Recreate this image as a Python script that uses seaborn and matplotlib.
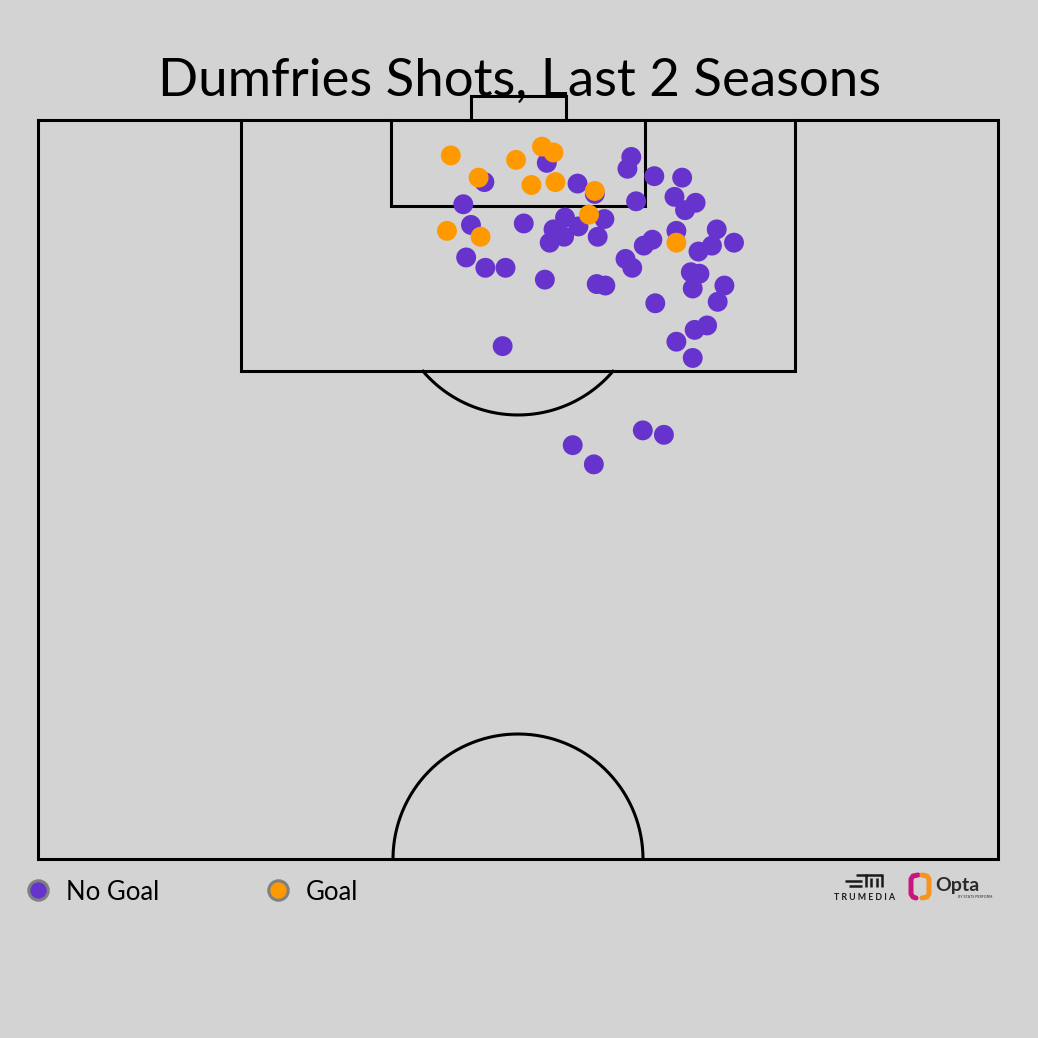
import matplotlib
matplotlib.use("Agg")
import matplotlib.pyplot as plt
import numpy as np
import pandas as pd
import seaborn as sns

# shot locations: across (0-100, left to right), up (distance along pitch, 100 = goal line)
goal_across = [43.0, 45.9, 49.8, 52.5, 53.7, 51.4, 53.9, 58.0, 57.4, 42.6, 46.1, 66.5]
goal_up = [97.6, 96.1, 97.3, 98.2, 97.8, 95.6, 95.8, 95.2, 93.6, 92.5, 92.1, 91.7]

nogoal_across = [46.5, 53.0, 56.2, 58.0, 61.8, 61.4, 64.2, 67.1, 62.3, 66.3, 68.5, 67.4,
                 44.3, 45.1, 50.6, 54.9, 59.0, 56.3, 53.7, 54.8, 53.3, 58.3, 66.5, 64.0,
                 63.1, 70.7, 70.2, 68.8, 72.5, 61.2, 61.9, 44.6, 46.6, 48.7, 52.8, 58.2,
                 59.1, 68.0, 68.9, 68.2, 71.5, 70.8, 64.3, 68.4, 69.7, 66.5, 68.2, 48.4,
                 55.7, 57.9, 63.0, 65.2]
nogoal_up = [95.8, 97.1, 95.7, 95.0, 97.5, 96.7, 96.2, 96.1, 94.5, 94.8, 94.4, 93.9,
             94.3, 92.9, 93.0, 93.4, 93.3, 92.8, 92.6, 92.1, 91.7, 92.1, 92.5, 91.9,
             91.5, 92.6, 91.5, 91.1, 91.7, 90.6, 90.0, 90.7, 90.0, 90.0, 89.2, 88.9,
             88.8, 89.7, 89.6, 88.6, 88.8, 87.7, 87.6, 85.8, 86.1, 85.0, 83.9, 84.7,
             78.0, 76.7, 79.0, 78.7]

outcomes = ["No Goal", "Goal"]
colors = {"No Goal": "#6633cc", "Goal": "#ff9900"}

BG = "#d3d3d3"
LW = 2.2

shots = pd.concat([
    pd.DataFrame({"across": nogoal_across, "up": nogoal_up, "result": "No Goal"}),
    pd.DataFrame({"across": goal_across, "up": goal_up, "result": "Goal"}),
], ignore_index=True)

sns.set_theme(style="white")
plt.rcParams["font.family"] = ["Lato", "DejaVu Sans"]

fig = plt.figure(figsize=(10.38, 10.38), dpi=100, facecolor=BG)
W = H = 1038.0
ax = fig.add_axes([38 / W, (H - 859) / H, 960 / W, 739 / H])
ax.set_facecolor(BG)
ax.set_xlim(0, 100)
ax.set_ylim(50, 100)
ax.axis("off")

fig.text(519 / W, 1 - 81 / H, "Dumfries Shots, Last 2 Seasons", ha="center", va="center",
         fontsize=38, color="black", zorder=0)


def line(xs, ys):
    ax.plot(xs, ys, color="black", lw=LW, clip_on=False, zorder=1,
            solid_capstyle="projecting", solid_joinstyle="miter")


# half pitch
line([0, 100, 100, 0, 0], [100, 100, 50, 50, 100])
# penalty box
line([21.1, 21.1, 78.9, 78.9], [100, 83, 83, 100])
# six yard box
line([36.8, 36.8, 63.2, 63.2], [100, 94.2, 94.2, 100])
# goal
line([45.1, 45.1, 55.0, 55.0], [100, 101.62, 101.62, 100])

# circles are round on screen: 125 px radius
rx = 125 / 9.6
ry = 125 / 14.78
t0 = np.arcsin((83 - 88.5) / ry)
t = np.linspace(np.pi - t0, 2 * np.pi + t0, 120)
line(50 + rx * np.cos(t), 88.5 + ry * np.sin(t))
t = np.linspace(0, np.pi, 200)
line(50 + rx * np.cos(t), 50 + ry * np.sin(t))

sns.scatterplot(data=shots, x="across", y="up", hue="result", hue_order=outcomes,
                palette=colors, s=205, linewidth=0, alpha=1, ax=ax, legend=False,
                zorder=3, clip_on=False)

# legend row
for lx, name in [(38, "No Goal"), (278, "Goal")]:
    fig.lines.append(plt.Line2D([lx / W], [1 - 890 / H], transform=fig.transFigure,
                                marker="o", markersize=14, markerfacecolor=colors[name],
                                markeredgecolor="#808080", markeredgewidth=2.2, ls=""))
    fig.text((lx + 28) / W, 1 - 892 / H, name, ha="left", va="center", fontsize=18.5,
             color="black")

# logos (approximate), in a pixel-coordinate axes
lg = fig.add_axes([820 / W, 1 - 910 / H, 190 / W, 50 / H])
lg.set_xlim(820, 1010)
lg.set_ylim(910, 860)
lg.axis("off")
ink = "#1a1a1a"
for xs, ys in [([845, 862], [881, 881]), ([849, 862], [886, 886]), ([856, 882], [874.5, 874.5]),
               ([866, 866], [874, 887]), ([871, 871], [878, 887]), ([876.5, 876.5], [878, 887]),
               ([882, 882], [874, 887])]:
    lg.plot(xs, ys, color=ink, lw=1.8, solid_capstyle="butt")
lg.text(864.5, 898, "T R U M E D I A", ha="center", va="center", fontsize=6.3,
        fontweight="bold", color=ink)
# opta mark: two rounded brackets
lg.plot([918, 913, 911, 911, 913, 916], [875, 876, 879, 894, 897, 898], color="#c8167e",
        lw=3.6, solid_capstyle="round")
lg.plot([922, 927, 929, 929, 927, 922], [875, 876, 879, 894, 897, 898], color="#f7941d",
        lw=3.6, solid_capstyle="round")
lg.text(935, 886, "Opta", ha="left", va="center", fontsize=14, fontweight="bold",
        color="#2b2b2b")
lg.text(958, 897, "BY STATS PERFORM", ha="left", va="center", fontsize=2.6, color="#2b2b2b")

fig.savefig("out.png", dpi=100, facecolor=BG)
